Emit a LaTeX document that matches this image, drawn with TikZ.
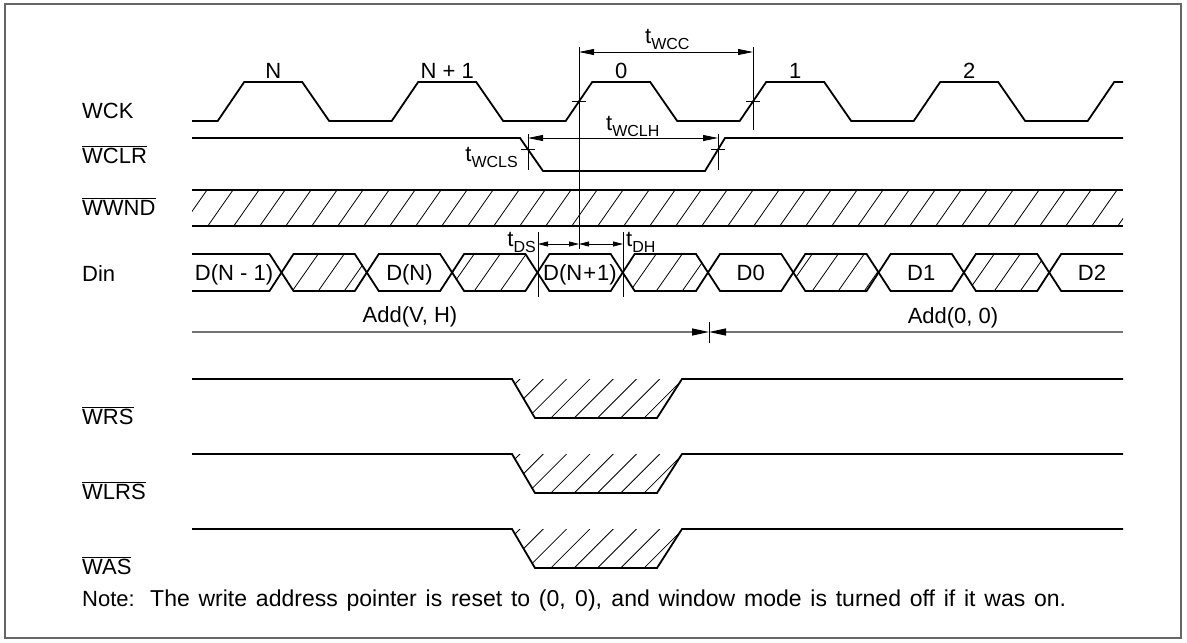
\documentclass[tikz,border=0pt]{standalone}
\usepackage{fontspec}
\setmainfont{Liberation Sans}
\usetikzlibrary{arrows.meta}
\newcommand\ovl[1]{$\overline{\hbox{#1}}$}
\newcommand\tsub[1]{t\raisebox{-6pt}{\fontsize{16}{16}\selectfont #1}}
\begin{document}
\begin{tikzpicture}[x=1pt,y=-1pt,
  font=\fontsize{22}{26}\selectfont,
  sig/.style={line width=1.8pt, line join=miter},
  guide/.style={line width=0.8pt},
  hatchline/.style={line width=0.8pt},
  lbl/.style={anchor=base west, inner sep=0pt},
  txt/.style={anchor=base, inner sep=0pt},
  dimarrow/.style={line width=0.8pt, {Triangle[length=15pt,width=6pt]}-{Triangle[length=15pt,width=6pt]}},
  smallarrow/.style={line width=0.8pt, {Triangle[length=10pt,width=5pt]}-{Triangle[length=10pt,width=5pt]}},
  addline/.style={line width=1.2pt, black!55, -{Triangle[length=17pt,width=7pt,color=black]}}]
\useasboundingbox (0,0) rectangle (1187,643);
\draw[black!60, line width=1.2pt] (5,4) rectangle (1181,638);

% ---------- signal names ----------
\node[lbl] (lwck)  at (82,118) {WCK};
\node[lbl] (lwclr) at (82,163) {\ovl{WCLR}};
\node[lbl] (lwwnd) at (82,215) {\ovl{WWND}};
\node[lbl] (ldin)  at (82,281) {Din};
\node[lbl] (lwrs)  at (82,424) {\ovl{WRS}};
\node[lbl] (lwlrs) at (82,499) {\ovl{WLRS}};
\node[lbl] (lwas)  at (82,574) {\ovl{WAS}};
\node[lbl] (note)  at (82,606) {Note:};
\node[lbl, font=\fontsize{23}{27}\selectfont] (notetext) at (150,606)
  {\makebox[916pt][s]{The write address pointer is reset to (0, 0), and window mode is turned off if it was on.}};

% ---------- WCK ----------
\draw[sig] (192,121)
  -- (217.7,121) -- (244.2,82) -- (302.2,82) -- (329.2,121)
  -- (391.7,121) -- (418.2,82) -- (476.2,82) -- (503.2,121)
  -- (565.7,121) -- (592.2,82) -- (650.2,82) -- (677.2,121)
  -- (739.7,121) -- (766.2,82) -- (824.2,82) -- (851.2,121)
  -- (913.7,121) -- (940.2,82) -- (998.2,82) -- (1025.2,121)
  -- (1087.7,121) -- (1114.2,82) -- (1123,82);
\node[txt] (cN)  at (273.2,78.4) {N};
\node[txt] (cN1) at (447.2,78.4) {N + 1};
\node[txt] (c0)  at (621.2,78.4) {0};
\node[txt] (c1)  at (795.2,78.4) {1};
\node[txt] (c2)  at (969.2,78.4) {2};

% tWCC
\coordinate (wccA) at (579,47);
\coordinate (wccB) at (753,47);
\coordinate (wccAend) at (579,249);
\coordinate (wccBend) at (753,130);
\draw[guide] (wccA) -- (wccAend);
\draw[guide] (wccB) -- (wccBend);
\coordinate (wccL) at (579,52);
\coordinate (wccR) at (753,52);
\draw[dimarrow] (wccL) -- (wccR);
\node[lbl] (twcc) at (645,43) {\tsub{WCC}};
\draw[guide] (572,101.5) -- (586,101.5);
\draw[guide] (746,101.5) -- (760,101.5);

% ---------- WCLR ----------
\draw[sig] (192,138) -- (520,138) -- (543,171) -- (705,171) -- (725,138) -- (1123,138);
\coordinate (wclsT) at (528,134);
\coordinate (wclsB) at (528,170);
\coordinate (wclhT) at (718,134);
\coordinate (wclhB) at (718,170);
\draw[guide] (wclsT) -- (wclsB);
\draw[guide] (wclhT) -- (wclhB);
\draw[guide] (521,149) -- (535,149);
\draw[guide] (711,149) -- (725,149);
\coordinate (wclhL) at (528,138);
\coordinate (wclhR) at (718,138);
\draw[dimarrow] (wclhL) -- (wclhR);
\node[lbl] (twclh) at (606,130) {\tsub{WCLH}};
\node[anchor=base east, inner sep=0pt] (twcls) at (518,161) {\tsub{WCLS}};

% ---------- WWND + Din hatching ----------
\begin{scope}
  \clip (192,190) rectangle (1123,226)
    (281.5,272.5) -- (293.5,254) -- (354.8,254) -- (366.8,272.5) -- (354.8,291) -- (293.5,291) -- cycle
    (452.1,272.5) -- (464.1,254) -- (525.4,254) -- (537.4,272.5) -- (525.4,291) -- (464.1,291) -- cycle
    (622.7,272.5) -- (634.7,254) -- (696,254) -- (708,272.5) -- (696,291) -- (634.7,291) -- cycle
    (793.3,272.5) -- (805.3,254) -- (866.6,254) -- (878.6,272.5) -- (866.6,291) -- (805.3,291) -- cycle
    (963.9,272.5) -- (975.9,254) -- (1037.2,254) -- (1049.2,272.5) -- (1037.2,291) -- (975.9,291) -- cycle;
  \foreach \i in {0,...,40} {
    \draw[hatchline] ({130+26*\i},300) -- ++(77,-110);
  }
\end{scope}
\draw[sig] (192,190) -- (1123,190);
\draw[sig] (192,226) -- (1123,226);

% ---------- Din ----------
\draw[sig] (192,254) -- (269.5,254) -- (293.5,291) -- (354.8,291) -- (378.8,254) -- (440.1,254) -- (464.1,291)
  -- (525.4,291) -- (549.4,254) -- (610.7,254) -- (634.7,291) -- (696,291) -- (720,254) -- (781.3,254)
  -- (805.3,291) -- (866.6,291) -- (890.6,254) -- (951.9,254) -- (975.9,291) -- (1037.2,291) -- (1061.2,254) -- (1123,254);
\draw[sig] (192,291) -- (269.5,291) -- (293.5,254) -- (354.8,254) -- (378.8,291) -- (440.1,291) -- (464.1,254)
  -- (525.4,254) -- (549.4,291) -- (610.7,291) -- (634.7,254) -- (696,254) -- (720,291) -- (781.3,291)
  -- (805.3,254) -- (866.6,254) -- (890.6,291) -- (951.9,291) -- (975.9,254) -- (1037.2,254) -- (1061.2,291) -- (1123,291);
\node[txt] (dn1) at (234,280.4) {D(N - 1)};
\node[txt] (dn)  at (409.5,280.4) {D(N)};
\node[txt] (dnp) at (580,280.4) {D(N\kern1pt+\kern1pt1)};
\node[txt] (d0)  at (750.7,280.4) {D0};
\node[txt] (d1)  at (921.3,280.4) {D1};
\node[txt] (d2)  at (1092,280.4) {D2};

% tDS / tDH
\coordinate (dsT) at (538,232);
\coordinate (dsB) at (538,297);
\coordinate (dhT) at (623,232);
\coordinate (dhB) at (623,297);
\draw[guide] (dsT) -- (dsB);
\draw[guide] (dhT) -- (dhB);
\coordinate (dsL) at (538,244);
\coordinate (dsM) at (579,244);
\coordinate (dhR) at (623,244);
\draw[smallarrow] (dsL) -- (dsM);
\draw[smallarrow] (dsM) -- (dhR);
\node[anchor=base east, inner sep=0pt] (tds) at (536,246) {\tsub{DS}};
\node[lbl] (tdh) at (626,246) {\tsub{DH}};

% ---------- Address line ----------
\coordinate (addL) at (192,332);
\coordinate (addR) at (1123,332);
\coordinate (addM) at (709,332);
\coordinate (addMT) at (709,322);
\coordinate (addMB) at (709,343);
\draw[addline] (addL) -- (addM);
\draw[addline] (addR) -- (addM);
\draw[guide] (addMT) -- (addMB);
\node[txt] (avh) at (410,322) {Add(V, H)};
\node[txt] (a00) at (953,323) {Add(0, 0)};

% ---------- WRS / WLRS / WAS ----------
\foreach \y in {379,454,529} {
  \begin{scope}
    \clip (512,\y) -- (535,\y+39) -- (657,\y+39) -- (682,\y) -- cycle;
    \foreach \i in {0,...,10} {
      \draw[hatchline] ({480+23.3*\i},\y+40) -- ++(41,-41);
    }
  \end{scope}
  \draw[sig] (192,\y) -- (512,\y) -- (535,\y+39) -- (657,\y+39) -- (682,\y) -- (1123,\y);
}
\end{tikzpicture}
\end{document}
